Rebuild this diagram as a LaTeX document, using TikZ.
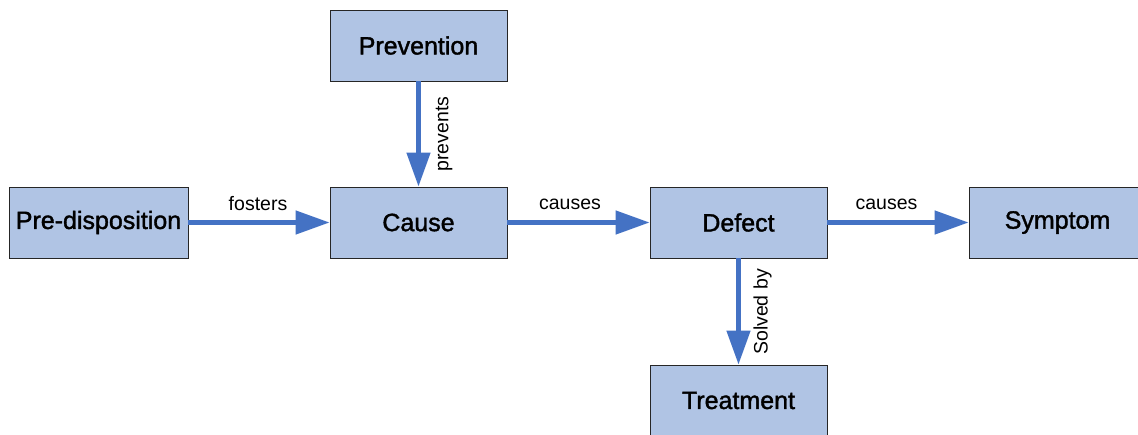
\documentclass[tikz,border=0pt]{standalone}
\usepackage{fontspec}
\setmainfont{Liberation Sans}
\newfontfamily\boxfont[FakeBold=1.5]{Liberation Sans}
\usetikzlibrary{arrows.meta}
\definecolor{boxfill}{RGB}{176,196,228}
\definecolor{arrowblue}{RGB}{68,114,196}
\begin{document}
\begin{tikzpicture}[x=1pt,y=-1pt,
  box/.style={draw=black!85, line width=0.8pt, fill=boxfill, minimum width=177pt, minimum height=71pt, inner sep=0pt, font=\boxfont\fontsize{25}{28}\selectfont},
  conn/.style={draw=arrowblue, line width=4.6pt, -{Triangle[length=34pt,width=23pt]}},
  lbl/.style={font=\fontsize{19.5}{22}\selectfont, inner sep=0pt}]
\useasboundingbox (0,0) rectangle (1138,434);
\clip (0,0) rectangle (1138,434);
\node[box, minimum width=179pt] (pre) at (98.5,222.5) {Pre-disposition};
\node[box] (cause) at (418.5,222.5) {Cause};
\node[box] (prev) at (418.5,45.5) {Prevention};
\node[box] (defect) at (738.5,222.5) {Defect};
\node[box] (symp) at (1057.5,222.5) {Symptom};
\node[box] (treat) at (738.5,400.5) {Treatment};
\draw[conn] (pre) -- (cause);
\draw[conn] (cause) -- (defect);
\draw[conn] (defect) -- (symp);
\draw[conn] (prev) -- (cause);
\draw[conn] (defect) -- (treat);
\node[lbl] (l1) at (258,204) {fosters};
\node[lbl] (l2) at (570,204) {causes};
\node[lbl] (l3) at (886.5,204) {causes};
\node[lbl, rotate=90] (l4) at (444,134) {prevents};
\node[lbl, rotate=90] (l5) at (762.5,312) {Solved by};
\end{tikzpicture}
\end{document}
